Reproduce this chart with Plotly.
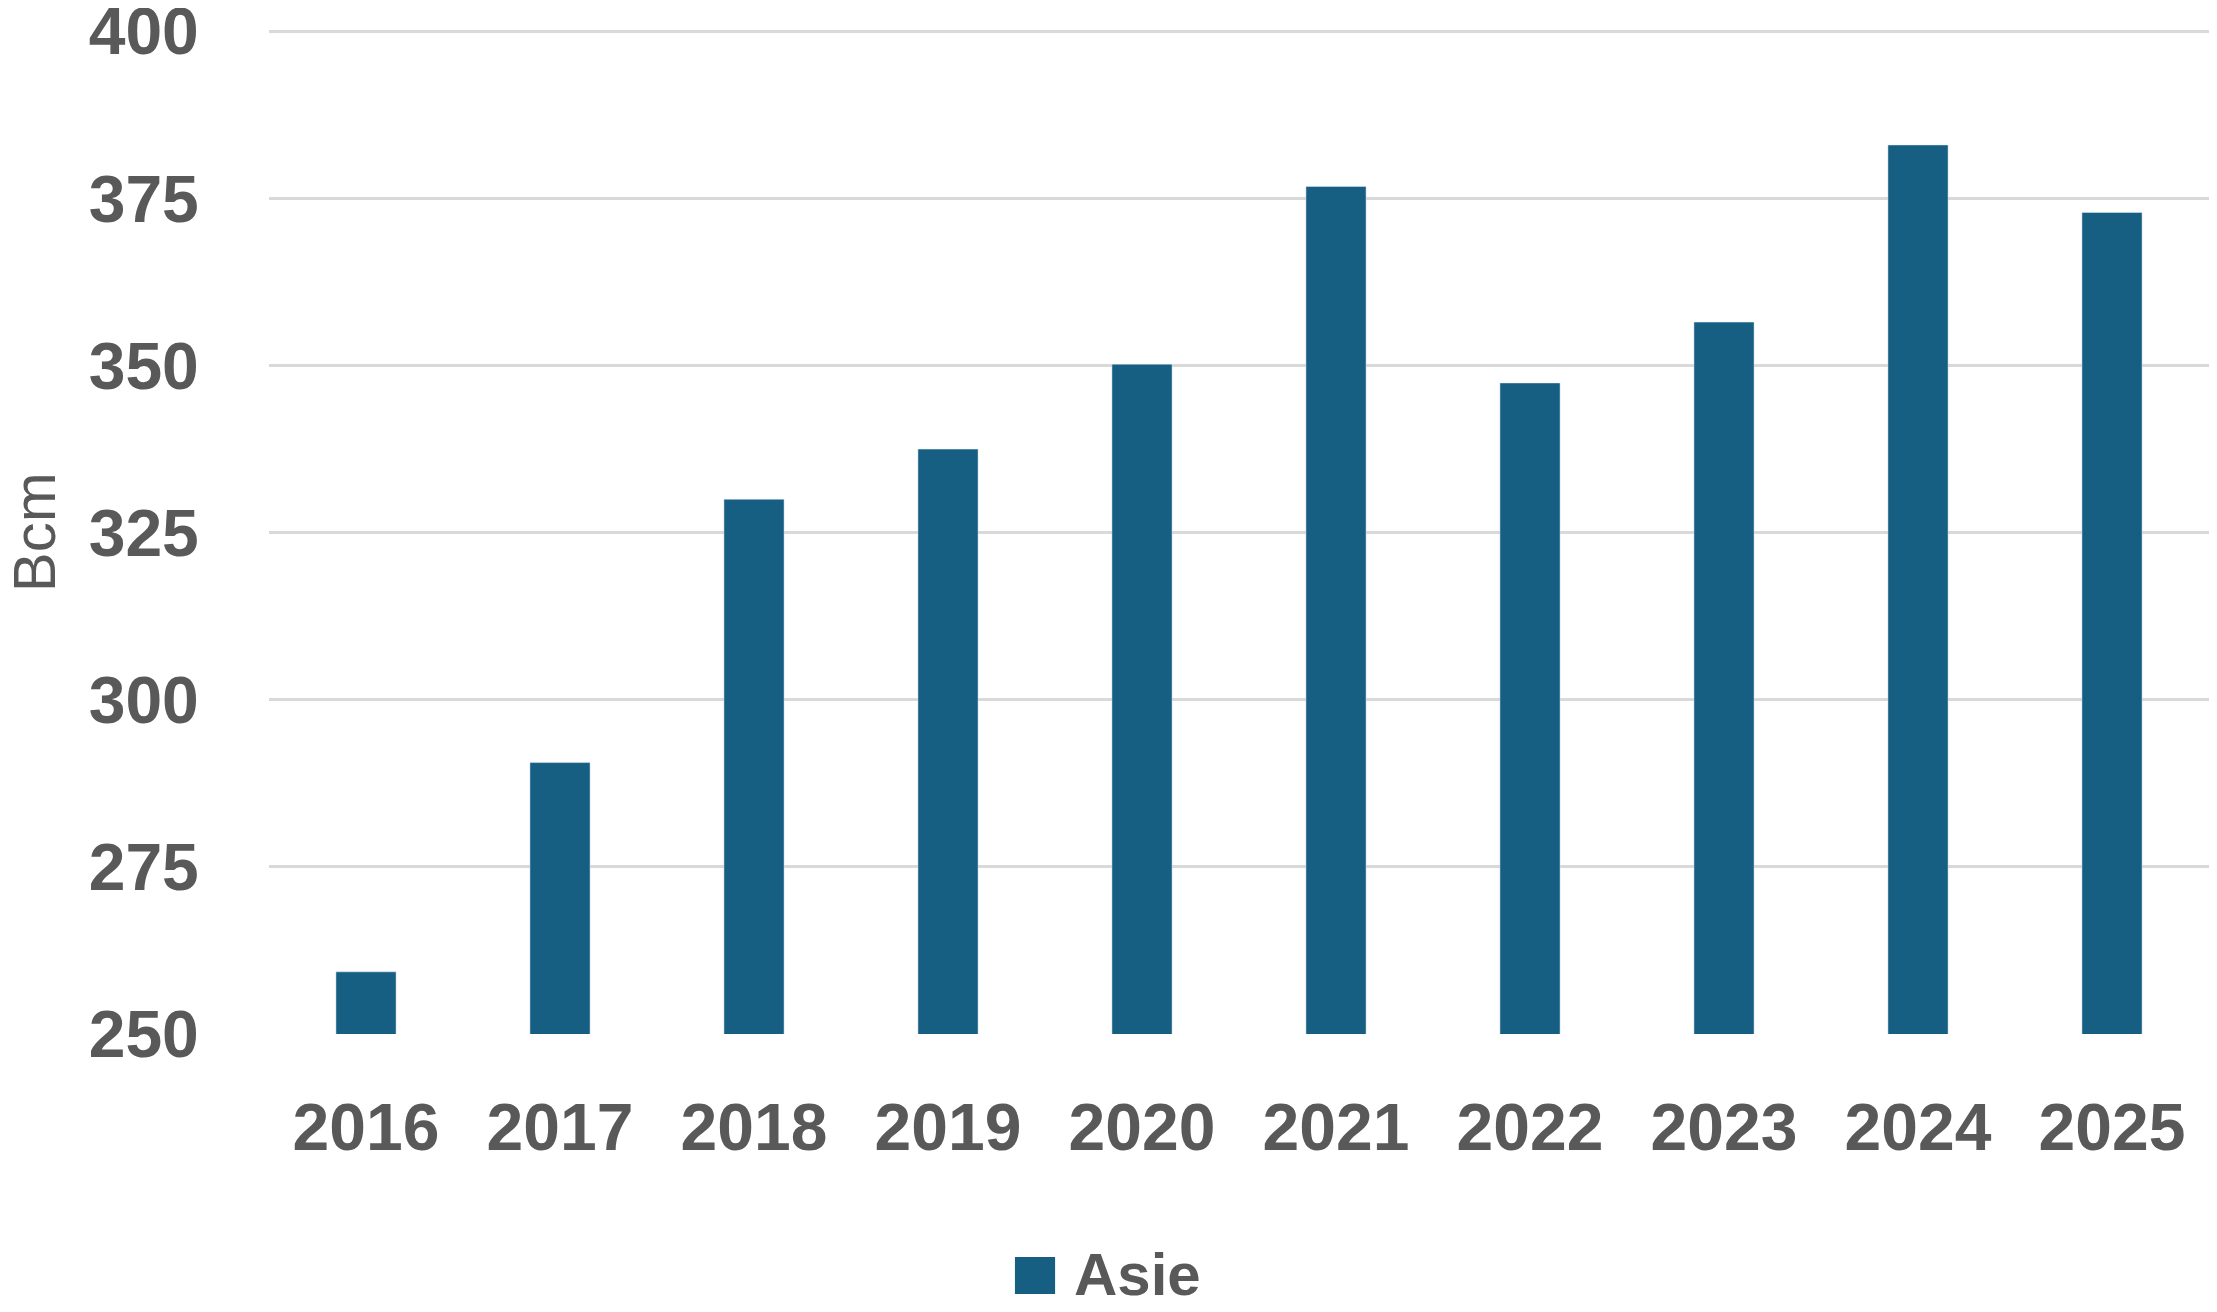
import plotly.graph_objects as go

# Asie demand (Bcm)
years = ["2016", "2017", "2018", "2019", "2020", "2021", "2022", "2023", "2024", "2025"]
asie = [259.3, 290.6, 330.0, 337.5, 350.2, 376.8, 347.4, 356.5, 383.0, 372.9]
y_ticks = [250, 275, 300, 325, 350, 375, 400]

bar_color = "#165E82"
text_color = "#595959"
font_name = "Liberation Sans, Arial"

fig = go.Figure(go.Bar(x=years, y=asie, name="Asie", marker_color=bar_color,
                       showlegend=False))

# the page body adds 8px, so margins are shifted by that
fig.update_layout(
    width=2217, height=1312,
    margin=dict(l=261, r=16, t=22, b=286),
    plot_bgcolor="white", paper_bgcolor="white",
    bargap=0.69,
    font=dict(family=font_name, color=text_color),
)
fig.update_xaxes(
    type="category", showgrid=False, zeroline=False, showline=False, automargin=False,
    ticks="outside", ticklen=36, tickcolor="rgba(0,0,0,0)",
    tickfont=dict(size=66, family=font_name, weight="bold", color=text_color),
)
fig.update_yaxes(
    range=[250, 400.2], tickvals=y_ticks, showgrid=True, gridcolor="#D9D9D9", gridwidth=3,
    zeroline=False, showline=False, automargin=False, ticklabeloverflow="allow",
    ticks="outside", ticklen=56, tickcolor="rgba(0,0,0,0)",
    tickfont=dict(size=66, family=font_name, weight="bold", color=text_color),
)

# y-axis title
fig.add_annotation(text="Bcm", xref="paper", yref="paper", x=-0.121, y=0.5,
                   xanchor="center", yanchor="middle", textangle=-90, showarrow=False,
                   font=dict(size=60, family=font_name, color=text_color))

# legend drawn by hand so the swatch matches the reference size
fig.add_shape(type="rect", xref="paper", yref="paper", x0=0.3845, x1=0.4052,
              y0=-0.259, y1=-0.2221, fillcolor=bar_color, line_width=0)
fig.add_annotation(text="Asie", xref="paper", yref="paper", x=0.4139, y=-0.240,
                   xanchor="left", yanchor="middle", showarrow=False,
                   font=dict(size=60, family=font_name, weight="bold", color=text_color))

fig.write_html("out.html")
